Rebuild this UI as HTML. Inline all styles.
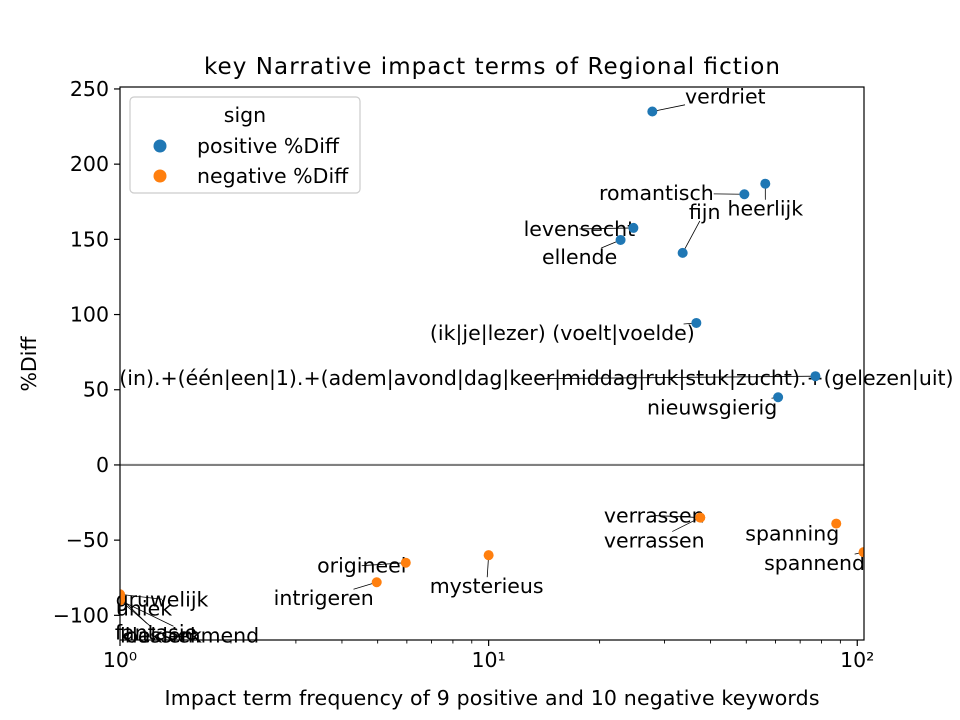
<!DOCTYPE html>
<html><head><meta charset="utf-8"><style>
body{margin:0;background:#fff;}
svg{display:block;font-family:"DejaVu Sans","Liberation Sans",sans-serif;}
</style></head><body>
<svg width="960" height="720" viewBox="0 0 960 720" id="chart">
<rect width="960" height="720" fill="#fff"/>
<text x="492" y="74" text-anchor="middle" font-size="23" textLength="576">key Narrative impact terms of Regional fiction</text>
<g id="plot"></g>
<text x="492" y="705" text-anchor="middle" font-size="20.5" textLength="655">Impact term frequency of 9 positive and 10 negative keywords</text>
<text transform="translate(36,364) rotate(-90)" text-anchor="middle" font-size="20.5">%Diff</text>
<g>
<rect x="130" y="97" width="230" height="96" rx="4" fill="#fff" stroke="#ccc" stroke-width="1.2"/>
<text x="245" y="122" text-anchor="middle" font-size="20.5">sign</text>
<circle cx="160" cy="146" r="6.5" fill="#1f77b4"/>
<text x="197" y="153" font-size="20.5">positive %Diff</text>
<circle cx="160" cy="176" r="6.5" fill="#ff7f0e"/>
<text x="197" y="183" font-size="20.5">negative %Diff</text>
</g>
</svg>
<script>
const posTerms=["verdriet","heerlijk","romantisch","levensecht","ellende","fijn","(ik|je|lezer) (voelt|voelde)","(in).+(één|een|1).+(adem|avond|dag|keer|middag|ruk|stuk|zucht).+(gelezen|uit)","nieuwsgierig"];
const posFreq=[27.8,56.3,49.4,24.7,22.8,33.6,36.6,77,61];
const posDiff=[235,187,180,157.6,149.6,141,94.4,59,45];
const negTerms=["verrassen","verrassen","spanning","spannend","mysterieus","origineel","intrigeren","gruwelijk","uniek","fantasie","beklemmend","klassiek"];
const negFreq=[37.5,37.5,87.7,104,10,5.96,4.97,1,1,1,1,1];
const negDiff=[-35,-35,-39,-58,-60,-65,-78,-86,-88,-88,-90,-90];
const xTicks=[1,10,100];
const xTickLabels=["10⁰","10¹","10²"];
const yTicks=[-100,-50,0,50,100,150,200,250];
const posLab=[[73,-15],[0,25],[-88,-1],[-54,1],[-41,17],[22,-41],[-134,10],[-279,2],[-66,10]];
const negLab=[[-46,-2],[-46,23],[-44,10],[-49,11],[-2,31],[-44,3],[-53,16],[42,5],[24,11],[36,35],[72,35],[41,35]];

const L=120,R=864,T=87,B=640;
const xMin=0,xMax=Math.log10(104.3);
const yMin=-116.4,yMax=251.3;
const X=v=>L+(Math.log10(v)-xMin)/(xMax-xMin)*(R-L);
const Y=v=>B-(v-yMin)/(yMax-yMin)*(B-T);
const NS="http://www.w3.org/2000/svg";
const g=document.getElementById('plot');
function mk(t,a,p){const e=document.createElementNS(NS,t);for(const k in a)e.setAttribute(k,a[k]);(p||g).appendChild(e);return e;}

const z=mk('line',{x1:L,x2:R,y1:Y(0),y2:Y(0),stroke:'#808080','stroke-width':2.2});



const defs=mk('defs',{});
const cp=mk('clipPath',{id:'clip'},defs);
mk('rect',{x:L,y:T,width:R-L,height:B-T},cp);

const labs=mk('g',{});
const marks=mk('g',{});
function edgePoint(px,py,bb){
  const cx=bb.x+bb.width/2,cy=bb.y+bb.height/2;
  const dx=px-cx,dy=py-cy;
  if(Math.abs(px-cx)<bb.width/2&&Math.abs(py-cy)<bb.height/2)return [cx,cy];
  const sx=dx===0?Infinity:(bb.width/2)/Math.abs(dx);
  const sy=dy===0?Infinity:(bb.height/2)/Math.abs(dy);
  const s=Math.min(sx,sy);
  return [cx+dx*s,cy+dy*s];
}
function series(terms,fr,df,lab,col,nm){
  for(let i=0;i<terms.length;i++){
    const px=X(fr[i]),py=Y(df[i]);
    const tx=px+lab[i][0],ty=py+lab[i][1];
    const t=mk('text',{x:tx,y:ty+7,'text-anchor':'middle','font-size':20.5},labs);
    t.textContent=terms[i];
    
    
    const bb=t.getBBox();
    const bbs={x:bb.x,y:bb.y+3,width:bb.width,height:bb.height-6};
    const e=edgePoint(px,py,bbs);
    const ln=mk('line',{x1:px,y1:py,x2:e[0],y2:e[1],stroke:'#000','stroke-width':0.8},labs);
    
    
    const c=mk('circle',{cx:px,cy:py,r:5,fill:col,'clip-path':'url(#clip)'},marks);
    
    
  }
}
series(posTerms,posFreq,posDiff,posLab,'#1f77b4','positive');
series(negTerms,negFreq,negDiff,negLab,'#ff7f0e','negative');

const fr=mk('rect',{x:L,y:T,width:R-L,height:B-T,fill:'none',stroke:'#000','stroke-width':1.2});



yTicks.forEach(v=>{
  const y=Y(v);
  const tk=mk('line',{x1:L-6,x2:L,y1:y,y2:y,stroke:'#000','stroke-width':1.2});
  
  
  const t=mk('text',{x:L-11,y:y+7,'text-anchor':'end','font-size':20.5});
  t.textContent=v<0?'−'+Math.abs(v):String(v);
  
  
});
xTicks.forEach((v,i)=>{
  const x=X(v);
  const tk=mk('line',{x1:x,x2:x,y1:B,y2:B+6,stroke:'#000','stroke-width':1.2});
  
  
  const t=mk('text',{x:x,y:B+27,'text-anchor':'middle','font-size':20.5});
  t.textContent=xTickLabels[i];
  
  
});
for(let d=0;d<3;d++)for(let m=2;m<10;m++){
  const v=m*Math.pow(10,d);
  if(v>104)continue;
  const x=X(v);
  const tk=mk('line',{x1:x,x2:x,y1:B,y2:B+3.5,stroke:'#000','stroke-width':0.9});
  
  
}
</script>
</body></html>
